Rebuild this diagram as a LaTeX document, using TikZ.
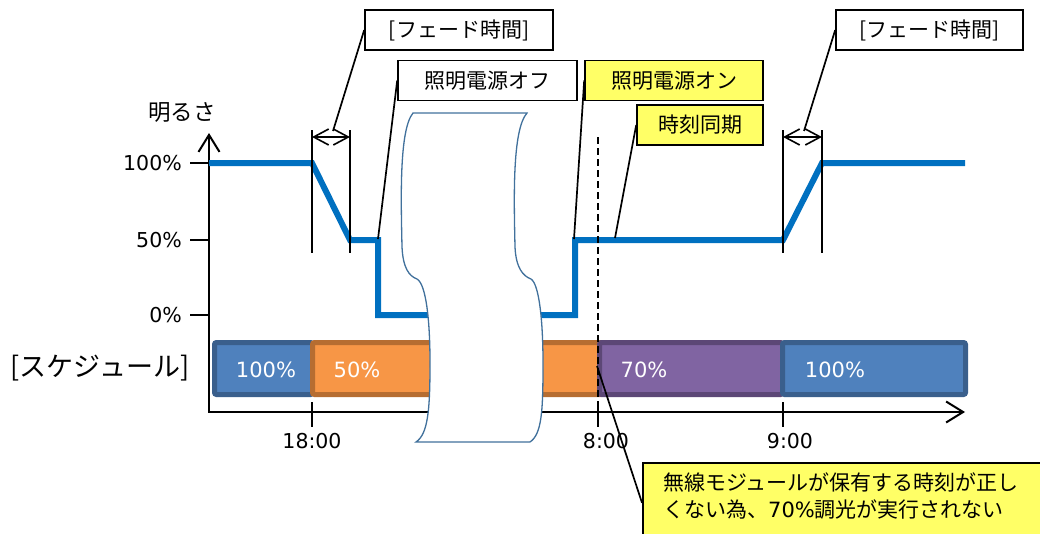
\documentclass[tikz,border=0pt]{standalone}
\usepackage{fontspec}
\setmainfont{DejaVu Sans}
\newfontfamily\jpfont{Noto Sans CJK JP}
\usetikzlibrary{arrows.meta}
\definecolor{lineblue}{HTML}{0070C0}
\definecolor{barblue}{HTML}{4F81BD}
\definecolor{barblueD}{HTML}{3A5F8C}
\definecolor{barorange}{HTML}{F79646}
\definecolor{barorangeD}{HTML}{B66D31}
\definecolor{barpurple}{HTML}{8064A2}
\definecolor{barpurpleD}{HTML}{5C4776}
\definecolor{noteyellow}{HTML}{FFFF66}
\definecolor{scrolledge}{HTML}{41719C}
\begin{document}
\begin{tikzpicture}[x=1pt,y=-1pt,
  num/.style={inner sep=0pt, font=\fontsize{20.5}{24}\selectfont},
  jp/.style={inner sep=0pt, font=\jpfont\fontsize{21}{25}\selectfont},
  barnum/.style={inner sep=0pt, text=white, font=\fontsize{21}{24}\selectfont},
  callout/.style={draw=black, line width=1.6pt, fill=white, inner sep=0pt,
    minimum height=40pt, font=\jpfont\fontsize{21}{25}\selectfont},
  ycallout/.style={callout, fill=noteyellow},
  leader/.style={line width=1.7pt},
  axisline/.style={line width=2pt, {Straight Barb[length=17pt,width=21pt]}-{Straight Barb[length=17pt,width=21pt]}},
  tick/.style={line width=2pt},
  fadeline/.style={line width=1.6pt},
  fadearrow/.style={line width=1.6pt, {Straight Barb[length=15pt,width=16pt]}-{Straight Barb[length=15pt,width=16pt]}},
  light/.style={line width=6pt, draw=lineblue, line join=miter},
  bar/.style={line width=5pt, rounded corners=2pt},
  scrollshape/.style={draw=scrolledge, line width=1.3pt, fill=white},
  guide/.style={line width=1.7pt, dash pattern=on 7pt off 4pt}
]
\useasboundingbox (0,0) rectangle (1040,533);
\clip (0,0) rectangle (1040,533);

% axes
\coordinate (ytop) at (209,133);
\coordinate (origin) at (209,412);
\coordinate (xend) at (965,412);
\draw[axisline] (ytop) -- (origin) -- (xend);

% y ticks and labels
\foreach \yy/\lab/\nm in {163/100\%/ya, 240/50\%/yb, 315/0\%/yc}{
  \draw[tick] (190,\yy) -- (209,\yy);
  \node[num, anchor=east] (\nm) at (182,\yy) {\lab};
}
\node[jp, font=\jpfont\fontsize{22.5}{26}\selectfont] (bright) at (182,112) {明るさ};

% x ticks and labels
\draw[tick] (312,402) -- (312,427);
\draw[tick] (598,402) -- (598,427);
\draw[tick] (783,402) -- (783,427);
\node[num] (t18) at (312,441) {18:00};
\node[num] (t8) at (606,441) {8:00};
\node[num] (t9) at (790,441) {9:00};

% brightness line
\draw[light] (209,163) -- (312,163) -- (350,240) -- (378,240) -- (378,315)
  -- (575,315) -- (575,240) -- (783,240) -- (822,163) -- (965,163);

% fade markers
\draw[fadeline] (312,130) -- (312,253);
\draw[fadeline] (350,130) -- (350,253);
\draw[fadeline] (783,130) -- (783,253);
\draw[fadeline] (822,130) -- (822,253);
\coordinate (fa1l) at (312,137);
\coordinate (fa1r) at (350,137);
\coordinate (fa2l) at (783,137);
\coordinate (fa2r) at (822,137);
\draw[fadearrow] (fa1l) -- (fa1r);
\draw[fadearrow] (fa2l) -- (fa2r);

% schedule bars
\draw[bar, fill=barblue, draw=barblueD] (214.5,342.5) rectangle (312.5,394.5);
\draw[bar, fill=barorange, draw=barorangeD] (312.5,342.5) rectangle (602,394.5);
\draw[bar, fill=barpurple, draw=barpurpleD] (599.5,342.5) rectangle (782.5,394.5);
\draw[bar, fill=barblue, draw=barblueD] (782.5,342.5) rectangle (965.5,394.5);
\node[barnum] (b1) at (266,370) {100\%};
\node[barnum] (b2) at (357,370) {50\%};
\node[barnum] (b3) at (644,370) {70\%};
\node[barnum] (b4) at (835,370) {100\%};
\node[jp, font=\jpfont\fontsize{27}{30}\selectfont] (sched) at (100,368) {[スケジュール]};

% time break shape
\path[scrollshape] (413,113)
  .. controls (399,130) and (401,200) .. (402,247)
  .. controls (403,268) and (409,276) .. (417,279)
  .. controls (426,284) and (430,320) .. (430,363)
  .. controls (430,410) and (428,434) .. (416,442)
  -- (530,442)
  .. controls (542,434) and (543,410) .. (543,363)
  .. controls (543,320) and (539,284) .. (531,279)
  .. controls (523,276) and (516,268) .. (515,247)
  .. controls (514,200) and (512,130) .. (527,113)
  -- cycle;

% time sync dashed line
\draw[guide] (598,137) -- (598,402);

% callouts
\node[callout, minimum width=188pt] (fade1) at (459,30) {[フェード時間]};
\node[callout, minimum width=179pt] (off) at (487.5,80.5) {照明電源オフ};
\node[ycallout, minimum width=178pt] (on) at (674,80.5) {照明電源オン};
\node[ycallout, minimum width=126pt] (sync) at (700,125) {時刻同期};
\node[callout, minimum width=187pt] (fade2) at (929.5,30) {[フェード時間]};
\node[ycallout, minimum width=410pt, minimum height=80pt, anchor=north west] (note) at (642,462) {};
\node[inner sep=0pt, anchor=west, align=left, font=\jpfont\fontsize{21}{27}\selectfont] (notetxt) at (663,496.5)
  {無線モジュールが保有する時刻が正し\\くない為、{\fontspec{DejaVu Sans}70\%}調光が実行されない};

% leader lines
\coordinate (p1) at (333,131);
\coordinate (p2) at (378,239);
\coordinate (p3) at (574,239);
\coordinate (p4) at (615,238);
\coordinate (p5) at (804,131);
\coordinate (p6) at (597,366);
\draw[leader] (fade1.west) -- (p1);
\draw[leader] (off.west) -- (p2);
\draw[leader] (on.west) -- (p3);
\draw[leader] (sync.west) -- (p4);
\draw[leader] (fade2.west) -- (p5);
\draw[leader] (p6) -- (note.west);
\end{tikzpicture}
\end{document}
